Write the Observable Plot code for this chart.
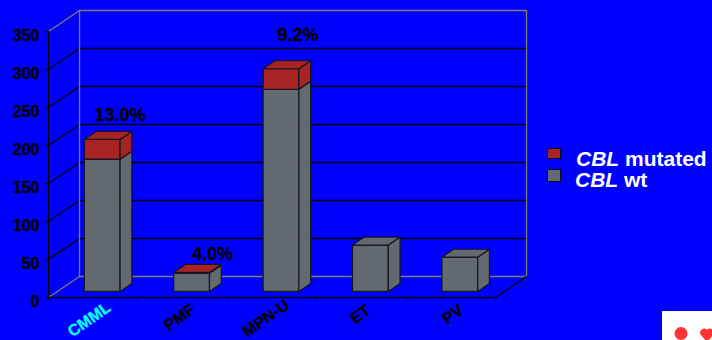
<!DOCTYPE html>
<html>
<head>
<meta charset="utf-8">
<script src="https://cdn.jsdelivr.net/npm/d3@7"></script>
<script src="https://cdn.jsdelivr.net/npm/@observablehq/plot@0.6"></script>
<style>
  html, body { margin: 0; padding: 0; background: #0000ff; overflow: hidden; }
  #stage { position: relative; width: 712px; height: 340px; font-family: "Liberation Sans", Arial, sans-serif; }
  #stage > svg { display: block; }
  .key { position: absolute; color: #fff; font-weight: bold; font-size: 21px; line-height: 22px; white-space: nowrap; }
  .swatch { position: absolute; left: 547px; width: 12px; border: 1.5px solid #0a0a20; }
  #corner { position: absolute; left: 662px; top: 311px; width: 50px; height: 29px; background: #fff; overflow: hidden; }
  #corner svg { position: absolute; left: 0; top: 0; }
</style>
</head>
<body>
<div id="stage">
  <div class="swatch" style="top:148px;height:9px;background:#a82424"></div>
  <div class="swatch" style="top:169px;height:11px;background:#626a74"></div>
  <div class="key" style="left:576px;top:148px"><i>CBL</i> mutated</div>
  <div class="key" style="left:575px;top:169px"><i>CBL</i> wt</div>
  <div id="corner"><svg width="50" height="29"><circle cx="19" cy="22.5" r="6.5" fill="#f33"/><path d="M45 31 L38.5 23.5 A4 4 0 0 1 45 19 A4 4 0 0 1 51.5 23.5 Z" fill="#f33"/></svg></div>
</div>
<script>
// Patient counts per diagnosis, split by CBL status
const diagnoses = ["CMML", "PMF", "MPN-U", "ET", "PV"];
const wildType = [174, 24, 266, 61, 45];
const mutated = [26, 1, 27, 0, 0];
const percentLabels = ["13.0%", "4.0%", "9.2%"];
const yTicks = [0, 50, 100, 150, 200, 250, 300, 350];
const xTicks = [0, 1, 2, 3, 4, 5];

const RED = "#a82424", GREY = "#626a70", EDGE = "#14141e", WALL = "#7d7d70";
const YMAX = 350;

// Oblique projection: depth 0 is the front plane, depth 1 the back wall
const DEPTH_X = 31 / 89.4, DEPTH_Y = 21 / 0.76;
const pt = (cat, val, depth) => ({x: cat + depth * DEPTH_X, y: val + depth * DEPTH_Y});

// Every polygon is a closed list of projected corners sharing an id
const faces = [];
let faceId = 0;
function addFace(color, corners) {
  faceId += 1;
  for (const c of corners) faces.push({...c, id: faceId, color});
}
const D0 = 0.29, D1 = 0.67, HALF = 0.2;
function addBlock(i, lo, hi, color, withTop) {
  const a = i + 0.5 - HALF, b = i + 0.5 + HALF;
  addFace(color, [pt(a, lo, D0), pt(b, lo, D0), pt(b, hi, D0), pt(a, hi, D0)]);
  addFace(color, [pt(b, lo, D0), pt(b, lo, D1), pt(b, hi, D1), pt(b, hi, D0)]);
  if (withTop) addFace(color, [pt(a, hi, D0), pt(b, hi, D0), pt(b, hi, D1), pt(a, hi, D1)]);
}
diagnoses.forEach((_, i) => {
  addBlock(i, 0, wildType[i], GREY, mutated[i] === 0);
  if (mutated[i] > 0) addBlock(i, wildType[i], wildType[i] + mutated[i], RED, true);
});

// Gridlines run along the left wall, then across the back wall
const gridPts = yTicks.filter(v => v > 0 && v < YMAX).flatMap(v => [
  {...pt(0, v, 0), v}, {...pt(0, v, 1), v}, {...pt(5, v, 1), v}
]);
const wallOutline = [pt(0, 0, 0), pt(0, 0, 1), pt(5, 0, 1), pt(5, YMAX, 1), pt(0, YMAX, 1), pt(0, YMAX, 0)];
const wallInner = [pt(0, 0, 1), pt(0, YMAX, 1)];
const floorSide = [pt(5, 0, 0), pt(5, 0, 1)];

const labelled = percentLabels.map((text, i) => ({
  text,
  x: i + [0.8, 0.835, 0.79][i],
  y: wildType[i] + mutated[i] + [40, 32, 52][i]
}));

// Category labels sit under the floor, nudged individually in pixels
const labelDx = [-4, -3, -6, -1, 2];
const labelDy = [22, 20, 21, 17, 17];
const pxX = 89.4, pxY = 0.76;
const heavy = {stroke: "#000", strokeWidth: 0.3};

const chart = Plot.plot({
  width: 712,
  height: 340,
  marginLeft: 48,
  marginRight: 217,
  marginTop: 31,
  marginBottom: 43,
  x: {domain: [0, 5], axis: null},
  y: {domain: [0, YMAX], axis: null},
  style: {background: "#0000ff", fontFamily: '"Liberation Sans", Arial, sans-serif', overflow: "visible"},
  marks: [
    Plot.line(gridPts, {x: "x", y: "y", z: "v", stroke: "#000", strokeWidth: 1.3}),
    Plot.line(wallOutline, {x: "x", y: "y", stroke: WALL, strokeWidth: 1.3}),
    Plot.line(wallInner, {x: "x", y: "y", stroke: WALL, strokeWidth: 1.3}),
    Plot.line(floorSide, {x: "x", y: "y", stroke: "#000", strokeWidth: 1.3}),
    Plot.ruleY([0], {x1: 0, x2: 5, stroke: "#000", strokeWidth: 1.3}),
    Plot.ruleX([0], {y1: 0, y2: YMAX, stroke: "#000", strokeWidth: 1.3}),
    Plot.ruleX(xTicks, {x: d => d, y1: 0, y2: -4, stroke: "#000", strokeWidth: 1.2}),
    Plot.ruleY(yTicks, {y: d => d, x1: 0, x2: -0.03, stroke: "#000", strokeWidth: 1.2}),
    Plot.line(faces, {x: "x", y: "y", z: "id", fill: "color", stroke: EDGE, strokeWidth: 1.2, curve: "linear-closed"}),
    Plot.text(yTicks, {
      x: 0, y: d => d, text: d => String(d), dx: -9, dy: 4, textAnchor: "end",
      fill: "#000", fontSize: 16, fontWeight: "bold", ...heavy
    }),
    Plot.text(labelled, {
      x: "x", y: "y", text: "text", fill: "#000", fontSize: 18, fontWeight: "bold", ...heavy
    }),
    Plot.text(diagnoses, {
      x: (d, i) => i + 0.5 + labelDx[i] / pxX,
      y: (d, i) => -labelDy[i] / pxY,
      text: d => d, rotate: -35,
      fill: (d, i) => (i === 0 ? "#00ffff" : "#000"),
      stroke: (d, i) => (i === 0 ? "#00ffff" : "#000"), strokeWidth: 0.3,
      fontSize: 16, fontWeight: "bold"
    })
  ]
});
document.getElementById("stage").prepend(chart);
</script>
</body>
</html>
